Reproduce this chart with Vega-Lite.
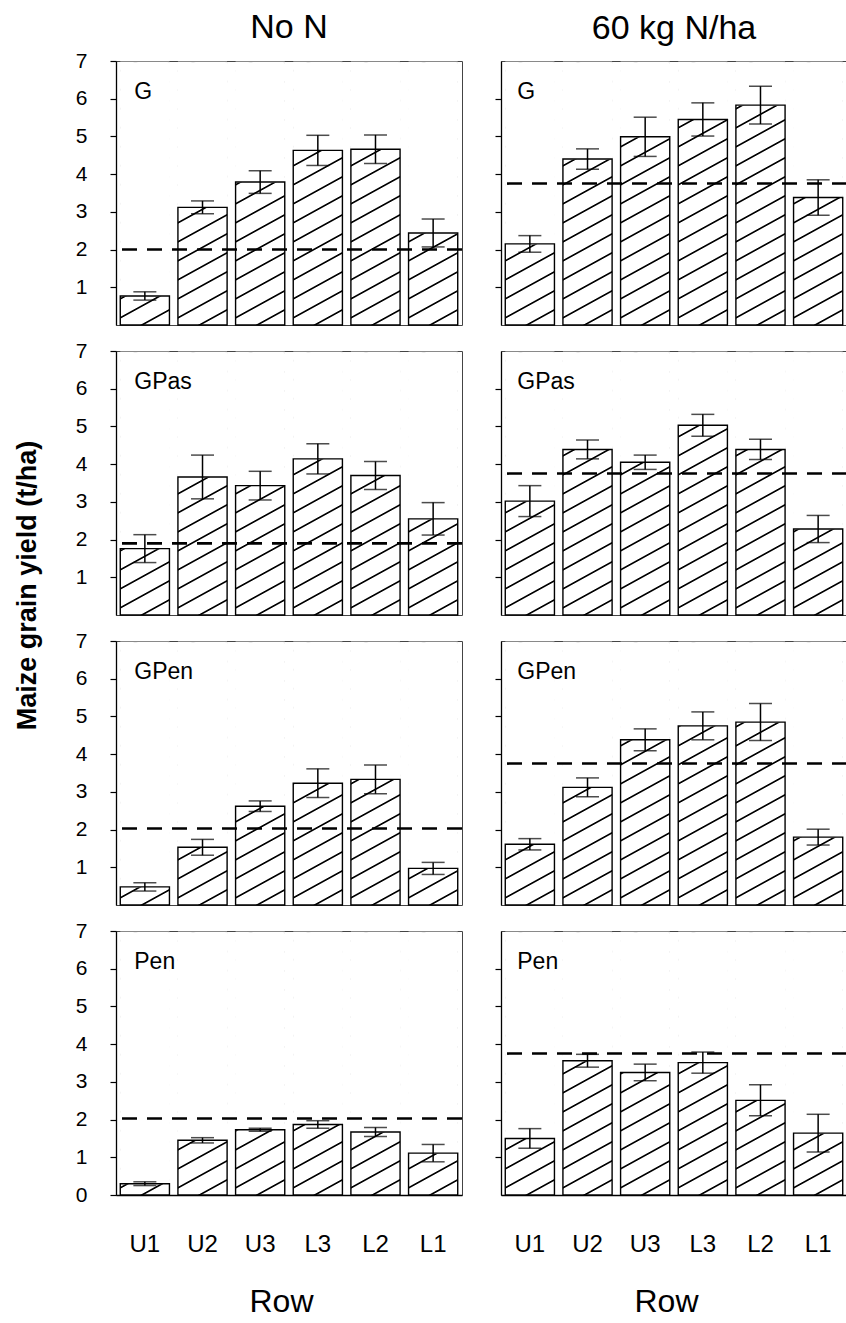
{
 "$schema": "https://vega.github.io/schema/vega-lite/v6.json",
 "background": "white",
 "padding": {"left": 12, "top": 10, "right": 0, "bottom": 0},
 "data": {"values": [
  {"n":"No N","system":"G","row":"U1","yield":0.77,"se":0.11,"control":2.0},
  {"n":"No N","system":"G","row":"U2","yield":3.12,"se":0.17,"control":2.0},
  {"n":"No N","system":"G","row":"U3","yield":3.79,"se":0.30,"control":2.0},
  {"n":"No N","system":"G","row":"L3","yield":4.63,"se":0.40,"control":2.0},
  {"n":"No N","system":"G","row":"L2","yield":4.66,"se":0.38,"control":2.0},
  {"n":"No N","system":"G","row":"L1","yield":2.44,"se":0.37,"control":2.0},
  {"n":"60 kg N/ha","system":"G","row":"U1","yield":2.15,"se":0.22,"control":3.75},
  {"n":"60 kg N/ha","system":"G","row":"U2","yield":4.40,"se":0.27,"control":3.75},
  {"n":"60 kg N/ha","system":"G","row":"U3","yield":4.99,"se":0.52,"control":3.75},
  {"n":"60 kg N/ha","system":"G","row":"L3","yield":5.45,"se":0.44,"control":3.75},
  {"n":"60 kg N/ha","system":"G","row":"L2","yield":5.83,"se":0.50,"control":3.75},
  {"n":"60 kg N/ha","system":"G","row":"L1","yield":3.38,"se":0.47,"control":3.75},
  {"n":"No N","system":"GPas","row":"U1","yield":1.76,"se":0.37,"control":1.9},
  {"n":"No N","system":"GPas","row":"U2","yield":3.66,"se":0.58,"control":1.9},
  {"n":"No N","system":"GPas","row":"U3","yield":3.43,"se":0.38,"control":1.9},
  {"n":"No N","system":"GPas","row":"L3","yield":4.14,"se":0.40,"control":1.9},
  {"n":"No N","system":"GPas","row":"L2","yield":3.70,"se":0.37,"control":1.9},
  {"n":"No N","system":"GPas","row":"L1","yield":2.55,"se":0.43,"control":1.9},
  {"n":"60 kg N/ha","system":"GPas","row":"U1","yield":3.02,"se":0.41,"control":3.75},
  {"n":"60 kg N/ha","system":"GPas","row":"U2","yield":4.39,"se":0.25,"control":3.75},
  {"n":"60 kg N/ha","system":"GPas","row":"U3","yield":4.05,"se":0.19,"control":3.75},
  {"n":"60 kg N/ha","system":"GPas","row":"L3","yield":5.03,"se":0.29,"control":3.75},
  {"n":"60 kg N/ha","system":"GPas","row":"L2","yield":4.39,"se":0.27,"control":3.75},
  {"n":"60 kg N/ha","system":"GPas","row":"L1","yield":2.28,"se":0.36,"control":3.75},
  {"n":"No N","system":"GPen","row":"U1","yield":0.48,"se":0.11,"control":2.03},
  {"n":"No N","system":"GPen","row":"U2","yield":1.53,"se":0.21,"control":2.03},
  {"n":"No N","system":"GPen","row":"U3","yield":2.62,"se":0.14,"control":2.03},
  {"n":"No N","system":"GPen","row":"L3","yield":3.23,"se":0.38,"control":2.03},
  {"n":"No N","system":"GPen","row":"L2","yield":3.33,"se":0.38,"control":2.03},
  {"n":"No N","system":"GPen","row":"L1","yield":0.97,"se":0.16,"control":2.03},
  {"n":"60 kg N/ha","system":"GPen","row":"U1","yield":1.61,"se":0.15,"control":3.75},
  {"n":"60 kg N/ha","system":"GPen","row":"U2","yield":3.12,"se":0.25,"control":3.75},
  {"n":"60 kg N/ha","system":"GPen","row":"U3","yield":4.38,"se":0.29,"control":3.75},
  {"n":"60 kg N/ha","system":"GPen","row":"L3","yield":4.75,"se":0.37,"control":3.75},
  {"n":"60 kg N/ha","system":"GPen","row":"L2","yield":4.85,"se":0.49,"control":3.75},
  {"n":"60 kg N/ha","system":"GPen","row":"L1","yield":1.80,"se":0.21,"control":3.75},
  {"n":"No N","system":"Pen","row":"U1","yield":0.30,"se":0.05,"control":2.03},
  {"n":"No N","system":"Pen","row":"U2","yield":1.45,"se":0.07,"control":2.03},
  {"n":"No N","system":"Pen","row":"U3","yield":1.73,"se":0.04,"control":2.03},
  {"n":"No N","system":"Pen","row":"L3","yield":1.87,"se":0.10,"control":2.03},
  {"n":"No N","system":"Pen","row":"L2","yield":1.67,"se":0.12,"control":2.03},
  {"n":"No N","system":"Pen","row":"L1","yield":1.11,"se":0.23,"control":2.03},
  {"n":"60 kg N/ha","system":"Pen","row":"U1","yield":1.50,"se":0.26,"control":3.75},
  {"n":"60 kg N/ha","system":"Pen","row":"U2","yield":3.56,"se":0.17,"control":3.75},
  {"n":"60 kg N/ha","system":"Pen","row":"U3","yield":3.25,"se":0.22,"control":3.75},
  {"n":"60 kg N/ha","system":"Pen","row":"L3","yield":3.51,"se":0.28,"control":3.75},
  {"n":"60 kg N/ha","system":"Pen","row":"L2","yield":2.51,"se":0.41,"control":3.75},
  {"n":"60 kg N/ha","system":"Pen","row":"L1","yield":1.64,"se":0.50,"control":3.75}
 ]},
 "columns": 2,
 "spacing": {"row": 26, "column": 39},
 "bounds": "flush",
 "concat": [
  {
   "width": 346, "height": 264,
   "title": {"text": "No N", "fontSize": 34, "fontWeight": "normal", "anchor": "middle", "frame": "group", "baseline": "alphabetic", "offset": 21, "dy": 43, "color": "black"},
   "transform": [{"filter": "datum.n === 'No N' && datum.system === 'G'"}],
   "layer": [
    {"mark": {"type": "bar", "fill": {"gradient": "linear", "x1": 0, "y1": 0, "x2": 0.11234, "y2": 1.09137, "stops": [{"offset": 0, "color": "#fff"}, {"offset": 0.025, "color": "#fff"}, {"offset": 0.0285, "color": "#000"}, {"offset": 0.0315, "color": "#000"}, {"offset": 0.035, "color": "#fff"}, {"offset": 0.0905, "color": "#fff"}, {"offset": 0.094, "color": "#000"}, {"offset": 0.097, "color": "#000"}, {"offset": 0.1005, "color": "#fff"}, {"offset": 0.1561, "color": "#fff"}, {"offset": 0.1596, "color": "#000"}, {"offset": 0.1626, "color": "#000"}, {"offset": 0.1661, "color": "#fff"}, {"offset": 0.2216, "color": "#fff"}, {"offset": 0.2251, "color": "#000"}, {"offset": 0.2281, "color": "#000"}, {"offset": 0.2316, "color": "#fff"}, {"offset": 0.2872, "color": "#fff"}, {"offset": 0.2907, "color": "#000"}, {"offset": 0.2937, "color": "#000"}, {"offset": 0.2972, "color": "#fff"}, {"offset": 0.3527, "color": "#fff"}, {"offset": 0.3562, "color": "#000"}, {"offset": 0.3592, "color": "#000"}, {"offset": 0.3627, "color": "#fff"}, {"offset": 0.4182, "color": "#fff"}, {"offset": 0.4217, "color": "#000"}, {"offset": 0.4247, "color": "#000"}, {"offset": 0.4282, "color": "#fff"}, {"offset": 0.4838, "color": "#fff"}, {"offset": 0.4873, "color": "#000"}, {"offset": 0.4903, "color": "#000"}, {"offset": 0.4938, "color": "#fff"}, {"offset": 0.5493, "color": "#fff"}, {"offset": 0.5528, "color": "#000"}, {"offset": 0.5558, "color": "#000"}, {"offset": 0.5593, "color": "#fff"}, {"offset": 0.6149, "color": "#fff"}, {"offset": 0.6184, "color": "#000"}, {"offset": 0.6214, "color": "#000"}, {"offset": 0.6249, "color": "#fff"}, {"offset": 0.6804, "color": "#fff"}, {"offset": 0.6839, "color": "#000"}, {"offset": 0.6869, "color": "#000"}, {"offset": 0.6904, "color": "#fff"}, {"offset": 0.7459, "color": "#fff"}, {"offset": 0.7494, "color": "#000"}, {"offset": 0.7524, "color": "#000"}, {"offset": 0.7559, "color": "#fff"}, {"offset": 0.8115, "color": "#fff"}, {"offset": 0.815, "color": "#000"}, {"offset": 0.818, "color": "#000"}, {"offset": 0.8215, "color": "#fff"}, {"offset": 0.877, "color": "#fff"}, {"offset": 0.8805, "color": "#000"}, {"offset": 0.8835, "color": "#000"}, {"offset": 0.887, "color": "#fff"}, {"offset": 0.9426, "color": "#fff"}, {"offset": 0.9461, "color": "#000"}, {"offset": 0.9491, "color": "#000"}, {"offset": 0.9526, "color": "#fff"}, {"offset": 1, "color": "#fff"}]}}, "encoding": {"x": {"field": "row", "type": "nominal", "sort": ["U1","U2","U3","L3","L2","L1"], "scale": {"paddingInner": 0.147, "paddingOuter": 0.074}, "axis": null}, "y": {"datum": 6.97, "type": "quantitative", "scale": {"domain": [0, 7], "nice": false}, "axis": {"values": [1,2,3,4,5,6,7], "title": null, "domain": true, "domainColor": "black", "domainWidth": 1.3, "tickSize": 6, "tickWidth": 1.2, "tickColor": "black", "labelFontSize": 21, "labelPadding": 23, "labelColor": "black", "grid": false, "labelBound": false, "labelFlush": false, "labelOverlap": false}}, "y2": {"datum": 0}}},
    {"mark": {"type": "bar", "fill": "white", "stroke": "white", "strokeWidth": 1}, "encoding": {"x": {"field": "row", "type": "nominal", "sort": ["U1","U2","U3","L3","L2","L1"]}, "y": {"field": "yield", "type": "quantitative"}, "y2": {"datum": 6.97}}},
    {"mark": {"type": "bar", "fill": "transparent", "stroke": "black", "strokeWidth": 1.4}, "encoding": {"x": {"field": "row", "type": "nominal", "sort": ["U1","U2","U3","L3","L2","L1"]}, "y": {"field": "yield", "type": "quantitative"}}},
    {"mark": {"type": "rule", "strokeDash": [15, 10], "strokeWidth": 2.6, "color": "black"}, "encoding": {"y": {"field": "control", "aggregate": "mean", "type": "quantitative"}}},
    {"mark": {"type": "errorbar", "ticks": true, "color": "black", "thickness": 1.5, "size": 23}, "encoding": {"x": {"field": "row", "type": "nominal", "sort": ["U1","U2","U3","L3","L2","L1"]}, "y": {"field": "yield", "type": "quantitative"}, "yError": {"field": "se"}}},
    {"transform": [{"filter": "datum.row === 'U1'"}], "mark": {"type": "text", "align": "left", "baseline": "alphabetic", "dx": 14, "fontSize": 23, "color": "black"}, "encoding": {"x": {"field": "row", "type": "nominal", "sort": ["U1","U2","U3","L3","L2","L1"], "bandPosition": 0}, "y": {"datum": 6.0, "type": "quantitative"}, "text": {"field": "system"}}}
   ]
  },
  {
   "width": 346, "height": 264,
   "title": {"text": "60 kg N/ha", "fontSize": 34, "fontWeight": "normal", "anchor": "middle", "frame": "group", "baseline": "alphabetic", "offset": 21, "dy": 33, "color": "black"},
   "transform": [{"filter": "datum.n === '60 kg N/ha' && datum.system === 'G'"}],
   "layer": [
    {"mark": {"type": "bar", "fill": {"gradient": "linear", "x1": 0, "y1": 0, "x2": 0.11234, "y2": 1.09137, "stops": [{"offset": 0, "color": "#fff"}, {"offset": 0.025, "color": "#fff"}, {"offset": 0.0285, "color": "#000"}, {"offset": 0.0315, "color": "#000"}, {"offset": 0.035, "color": "#fff"}, {"offset": 0.0905, "color": "#fff"}, {"offset": 0.094, "color": "#000"}, {"offset": 0.097, "color": "#000"}, {"offset": 0.1005, "color": "#fff"}, {"offset": 0.1561, "color": "#fff"}, {"offset": 0.1596, "color": "#000"}, {"offset": 0.1626, "color": "#000"}, {"offset": 0.1661, "color": "#fff"}, {"offset": 0.2216, "color": "#fff"}, {"offset": 0.2251, "color": "#000"}, {"offset": 0.2281, "color": "#000"}, {"offset": 0.2316, "color": "#fff"}, {"offset": 0.2872, "color": "#fff"}, {"offset": 0.2907, "color": "#000"}, {"offset": 0.2937, "color": "#000"}, {"offset": 0.2972, "color": "#fff"}, {"offset": 0.3527, "color": "#fff"}, {"offset": 0.3562, "color": "#000"}, {"offset": 0.3592, "color": "#000"}, {"offset": 0.3627, "color": "#fff"}, {"offset": 0.4182, "color": "#fff"}, {"offset": 0.4217, "color": "#000"}, {"offset": 0.4247, "color": "#000"}, {"offset": 0.4282, "color": "#fff"}, {"offset": 0.4838, "color": "#fff"}, {"offset": 0.4873, "color": "#000"}, {"offset": 0.4903, "color": "#000"}, {"offset": 0.4938, "color": "#fff"}, {"offset": 0.5493, "color": "#fff"}, {"offset": 0.5528, "color": "#000"}, {"offset": 0.5558, "color": "#000"}, {"offset": 0.5593, "color": "#fff"}, {"offset": 0.6149, "color": "#fff"}, {"offset": 0.6184, "color": "#000"}, {"offset": 0.6214, "color": "#000"}, {"offset": 0.6249, "color": "#fff"}, {"offset": 0.6804, "color": "#fff"}, {"offset": 0.6839, "color": "#000"}, {"offset": 0.6869, "color": "#000"}, {"offset": 0.6904, "color": "#fff"}, {"offset": 0.7459, "color": "#fff"}, {"offset": 0.7494, "color": "#000"}, {"offset": 0.7524, "color": "#000"}, {"offset": 0.7559, "color": "#fff"}, {"offset": 0.8115, "color": "#fff"}, {"offset": 0.815, "color": "#000"}, {"offset": 0.818, "color": "#000"}, {"offset": 0.8215, "color": "#fff"}, {"offset": 0.877, "color": "#fff"}, {"offset": 0.8805, "color": "#000"}, {"offset": 0.8835, "color": "#000"}, {"offset": 0.887, "color": "#fff"}, {"offset": 0.9426, "color": "#fff"}, {"offset": 0.9461, "color": "#000"}, {"offset": 0.9491, "color": "#000"}, {"offset": 0.9526, "color": "#fff"}, {"offset": 1, "color": "#fff"}]}}, "encoding": {"x": {"field": "row", "type": "nominal", "sort": ["U1","U2","U3","L3","L2","L1"], "scale": {"paddingInner": 0.147, "paddingOuter": 0.074}, "axis": null}, "y": {"datum": 6.97, "type": "quantitative", "scale": {"domain": [0, 7], "nice": false}, "axis": {"values": [1,2,3,4,5,6], "labels": false, "title": null, "domain": true, "domainColor": "black", "domainWidth": 1.3, "tickSize": 6, "tickWidth": 1.2, "tickColor": "black", "grid": false}}, "y2": {"datum": 0}}},
    {"mark": {"type": "bar", "fill": "white", "stroke": "white", "strokeWidth": 1}, "encoding": {"x": {"field": "row", "type": "nominal", "sort": ["U1","U2","U3","L3","L2","L1"]}, "y": {"field": "yield", "type": "quantitative"}, "y2": {"datum": 6.97}}},
    {"mark": {"type": "bar", "fill": "transparent", "stroke": "black", "strokeWidth": 1.4}, "encoding": {"x": {"field": "row", "type": "nominal", "sort": ["U1","U2","U3","L3","L2","L1"]}, "y": {"field": "yield", "type": "quantitative"}}},
    {"mark": {"type": "rule", "strokeDash": [15, 10], "strokeWidth": 2.6, "color": "black"}, "encoding": {"y": {"field": "control", "aggregate": "mean", "type": "quantitative"}}},
    {"mark": {"type": "errorbar", "ticks": true, "color": "black", "thickness": 1.5, "size": 23}, "encoding": {"x": {"field": "row", "type": "nominal", "sort": ["U1","U2","U3","L3","L2","L1"]}, "y": {"field": "yield", "type": "quantitative"}, "yError": {"field": "se"}}},
    {"transform": [{"filter": "datum.row === 'U1'"}], "mark": {"type": "text", "align": "left", "baseline": "alphabetic", "dx": 12, "fontSize": 23, "color": "black"}, "encoding": {"x": {"field": "row", "type": "nominal", "sort": ["U1","U2","U3","L3","L2","L1"], "bandPosition": 0}, "y": {"datum": 6.0, "type": "quantitative"}, "text": {"field": "system"}}}
   ]
  },
  {
   "width": 346, "height": 264,
   "transform": [{"filter": "datum.n === 'No N' && datum.system === 'GPas'"}],
   "layer": [
    {"mark": {"type": "bar", "fill": {"gradient": "linear", "x1": 0, "y1": 0, "x2": 0.11234, "y2": 1.09137, "stops": [{"offset": 0, "color": "#fff"}, {"offset": 0.025, "color": "#fff"}, {"offset": 0.0285, "color": "#000"}, {"offset": 0.0315, "color": "#000"}, {"offset": 0.035, "color": "#fff"}, {"offset": 0.0905, "color": "#fff"}, {"offset": 0.094, "color": "#000"}, {"offset": 0.097, "color": "#000"}, {"offset": 0.1005, "color": "#fff"}, {"offset": 0.1561, "color": "#fff"}, {"offset": 0.1596, "color": "#000"}, {"offset": 0.1626, "color": "#000"}, {"offset": 0.1661, "color": "#fff"}, {"offset": 0.2216, "color": "#fff"}, {"offset": 0.2251, "color": "#000"}, {"offset": 0.2281, "color": "#000"}, {"offset": 0.2316, "color": "#fff"}, {"offset": 0.2872, "color": "#fff"}, {"offset": 0.2907, "color": "#000"}, {"offset": 0.2937, "color": "#000"}, {"offset": 0.2972, "color": "#fff"}, {"offset": 0.3527, "color": "#fff"}, {"offset": 0.3562, "color": "#000"}, {"offset": 0.3592, "color": "#000"}, {"offset": 0.3627, "color": "#fff"}, {"offset": 0.4182, "color": "#fff"}, {"offset": 0.4217, "color": "#000"}, {"offset": 0.4247, "color": "#000"}, {"offset": 0.4282, "color": "#fff"}, {"offset": 0.4838, "color": "#fff"}, {"offset": 0.4873, "color": "#000"}, {"offset": 0.4903, "color": "#000"}, {"offset": 0.4938, "color": "#fff"}, {"offset": 0.5493, "color": "#fff"}, {"offset": 0.5528, "color": "#000"}, {"offset": 0.5558, "color": "#000"}, {"offset": 0.5593, "color": "#fff"}, {"offset": 0.6149, "color": "#fff"}, {"offset": 0.6184, "color": "#000"}, {"offset": 0.6214, "color": "#000"}, {"offset": 0.6249, "color": "#fff"}, {"offset": 0.6804, "color": "#fff"}, {"offset": 0.6839, "color": "#000"}, {"offset": 0.6869, "color": "#000"}, {"offset": 0.6904, "color": "#fff"}, {"offset": 0.7459, "color": "#fff"}, {"offset": 0.7494, "color": "#000"}, {"offset": 0.7524, "color": "#000"}, {"offset": 0.7559, "color": "#fff"}, {"offset": 0.8115, "color": "#fff"}, {"offset": 0.815, "color": "#000"}, {"offset": 0.818, "color": "#000"}, {"offset": 0.8215, "color": "#fff"}, {"offset": 0.877, "color": "#fff"}, {"offset": 0.8805, "color": "#000"}, {"offset": 0.8835, "color": "#000"}, {"offset": 0.887, "color": "#fff"}, {"offset": 0.9426, "color": "#fff"}, {"offset": 0.9461, "color": "#000"}, {"offset": 0.9491, "color": "#000"}, {"offset": 0.9526, "color": "#fff"}, {"offset": 1, "color": "#fff"}]}}, "encoding": {"x": {"field": "row", "type": "nominal", "sort": ["U1","U2","U3","L3","L2","L1"], "scale": {"paddingInner": 0.147, "paddingOuter": 0.074}, "axis": null}, "y": {"datum": 6.97, "type": "quantitative", "scale": {"domain": [0, 7], "nice": false}, "axis": {"values": [1,2,3,4,5,6,7], "title": "Maize grain yield (t/ha)", "titleFontSize": 27, "titleFontWeight": "bold", "titleColor": "black", "titleX": -89, "titleY": 234, "titleAngle": -90, "titleAlign": "center", "titleBaseline": "middle", "domain": true, "domainColor": "black", "domainWidth": 1.3, "tickSize": 6, "tickWidth": 1.2, "tickColor": "black", "labelFontSize": 21, "labelPadding": 23, "labelColor": "black", "grid": false, "labelBound": false, "labelFlush": false, "labelOverlap": false}}, "y2": {"datum": 0}}},
    {"mark": {"type": "bar", "fill": "white", "stroke": "white", "strokeWidth": 1}, "encoding": {"x": {"field": "row", "type": "nominal", "sort": ["U1","U2","U3","L3","L2","L1"]}, "y": {"field": "yield", "type": "quantitative", "title": "Maize grain yield (t/ha)"}, "y2": {"datum": 6.97}}},
    {"mark": {"type": "bar", "fill": "transparent", "stroke": "black", "strokeWidth": 1.4}, "encoding": {"x": {"field": "row", "type": "nominal", "sort": ["U1","U2","U3","L3","L2","L1"]}, "y": {"field": "yield", "type": "quantitative", "title": "Maize grain yield (t/ha)"}}},
    {"mark": {"type": "rule", "strokeDash": [15, 10], "strokeWidth": 2.6, "color": "black"}, "encoding": {"y": {"field": "control", "aggregate": "mean", "type": "quantitative", "title": "Maize grain yield (t/ha)"}}},
    {"mark": {"type": "errorbar", "ticks": true, "color": "black", "thickness": 1.5, "size": 23}, "encoding": {"x": {"field": "row", "type": "nominal", "sort": ["U1","U2","U3","L3","L2","L1"]}, "y": {"field": "yield", "type": "quantitative", "title": "Maize grain yield (t/ha)"}, "yError": {"field": "se"}}},
    {"transform": [{"filter": "datum.row === 'U1'"}], "mark": {"type": "text", "align": "left", "baseline": "alphabetic", "dx": 14, "fontSize": 23, "color": "black"}, "encoding": {"x": {"field": "row", "type": "nominal", "sort": ["U1","U2","U3","L3","L2","L1"], "bandPosition": 0}, "y": {"datum": 6.0, "type": "quantitative"}, "text": {"field": "system"}}}
   ]
  },
  {
   "width": 346, "height": 264,
   "transform": [{"filter": "datum.n === '60 kg N/ha' && datum.system === 'GPas'"}],
   "layer": [
    {"mark": {"type": "bar", "fill": {"gradient": "linear", "x1": 0, "y1": 0, "x2": 0.11234, "y2": 1.09137, "stops": [{"offset": 0, "color": "#fff"}, {"offset": 0.025, "color": "#fff"}, {"offset": 0.0285, "color": "#000"}, {"offset": 0.0315, "color": "#000"}, {"offset": 0.035, "color": "#fff"}, {"offset": 0.0905, "color": "#fff"}, {"offset": 0.094, "color": "#000"}, {"offset": 0.097, "color": "#000"}, {"offset": 0.1005, "color": "#fff"}, {"offset": 0.1561, "color": "#fff"}, {"offset": 0.1596, "color": "#000"}, {"offset": 0.1626, "color": "#000"}, {"offset": 0.1661, "color": "#fff"}, {"offset": 0.2216, "color": "#fff"}, {"offset": 0.2251, "color": "#000"}, {"offset": 0.2281, "color": "#000"}, {"offset": 0.2316, "color": "#fff"}, {"offset": 0.2872, "color": "#fff"}, {"offset": 0.2907, "color": "#000"}, {"offset": 0.2937, "color": "#000"}, {"offset": 0.2972, "color": "#fff"}, {"offset": 0.3527, "color": "#fff"}, {"offset": 0.3562, "color": "#000"}, {"offset": 0.3592, "color": "#000"}, {"offset": 0.3627, "color": "#fff"}, {"offset": 0.4182, "color": "#fff"}, {"offset": 0.4217, "color": "#000"}, {"offset": 0.4247, "color": "#000"}, {"offset": 0.4282, "color": "#fff"}, {"offset": 0.4838, "color": "#fff"}, {"offset": 0.4873, "color": "#000"}, {"offset": 0.4903, "color": "#000"}, {"offset": 0.4938, "color": "#fff"}, {"offset": 0.5493, "color": "#fff"}, {"offset": 0.5528, "color": "#000"}, {"offset": 0.5558, "color": "#000"}, {"offset": 0.5593, "color": "#fff"}, {"offset": 0.6149, "color": "#fff"}, {"offset": 0.6184, "color": "#000"}, {"offset": 0.6214, "color": "#000"}, {"offset": 0.6249, "color": "#fff"}, {"offset": 0.6804, "color": "#fff"}, {"offset": 0.6839, "color": "#000"}, {"offset": 0.6869, "color": "#000"}, {"offset": 0.6904, "color": "#fff"}, {"offset": 0.7459, "color": "#fff"}, {"offset": 0.7494, "color": "#000"}, {"offset": 0.7524, "color": "#000"}, {"offset": 0.7559, "color": "#fff"}, {"offset": 0.8115, "color": "#fff"}, {"offset": 0.815, "color": "#000"}, {"offset": 0.818, "color": "#000"}, {"offset": 0.8215, "color": "#fff"}, {"offset": 0.877, "color": "#fff"}, {"offset": 0.8805, "color": "#000"}, {"offset": 0.8835, "color": "#000"}, {"offset": 0.887, "color": "#fff"}, {"offset": 0.9426, "color": "#fff"}, {"offset": 0.9461, "color": "#000"}, {"offset": 0.9491, "color": "#000"}, {"offset": 0.9526, "color": "#fff"}, {"offset": 1, "color": "#fff"}]}}, "encoding": {"x": {"field": "row", "type": "nominal", "sort": ["U1","U2","U3","L3","L2","L1"], "scale": {"paddingInner": 0.147, "paddingOuter": 0.074}, "axis": null}, "y": {"datum": 6.97, "type": "quantitative", "scale": {"domain": [0, 7], "nice": false}, "axis": {"values": [1,2,3,4,5,6], "labels": false, "title": null, "domain": true, "domainColor": "black", "domainWidth": 1.3, "tickSize": 6, "tickWidth": 1.2, "tickColor": "black", "grid": false}}, "y2": {"datum": 0}}},
    {"mark": {"type": "bar", "fill": "white", "stroke": "white", "strokeWidth": 1}, "encoding": {"x": {"field": "row", "type": "nominal", "sort": ["U1","U2","U3","L3","L2","L1"]}, "y": {"field": "yield", "type": "quantitative"}, "y2": {"datum": 6.97}}},
    {"mark": {"type": "bar", "fill": "transparent", "stroke": "black", "strokeWidth": 1.4}, "encoding": {"x": {"field": "row", "type": "nominal", "sort": ["U1","U2","U3","L3","L2","L1"]}, "y": {"field": "yield", "type": "quantitative"}}},
    {"mark": {"type": "rule", "strokeDash": [15, 10], "strokeWidth": 2.6, "color": "black"}, "encoding": {"y": {"field": "control", "aggregate": "mean", "type": "quantitative"}}},
    {"mark": {"type": "errorbar", "ticks": true, "color": "black", "thickness": 1.5, "size": 23}, "encoding": {"x": {"field": "row", "type": "nominal", "sort": ["U1","U2","U3","L3","L2","L1"]}, "y": {"field": "yield", "type": "quantitative"}, "yError": {"field": "se"}}},
    {"transform": [{"filter": "datum.row === 'U1'"}], "mark": {"type": "text", "align": "left", "baseline": "alphabetic", "dx": 12, "fontSize": 23, "color": "black"}, "encoding": {"x": {"field": "row", "type": "nominal", "sort": ["U1","U2","U3","L3","L2","L1"], "bandPosition": 0}, "y": {"datum": 6.0, "type": "quantitative"}, "text": {"field": "system"}}}
   ]
  },
  {
   "width": 346, "height": 264,
   "transform": [{"filter": "datum.n === 'No N' && datum.system === 'GPen'"}],
   "layer": [
    {"mark": {"type": "bar", "fill": {"gradient": "linear", "x1": 0, "y1": 0, "x2": 0.11234, "y2": 1.09137, "stops": [{"offset": 0, "color": "#fff"}, {"offset": 0.025, "color": "#fff"}, {"offset": 0.0285, "color": "#000"}, {"offset": 0.0315, "color": "#000"}, {"offset": 0.035, "color": "#fff"}, {"offset": 0.0905, "color": "#fff"}, {"offset": 0.094, "color": "#000"}, {"offset": 0.097, "color": "#000"}, {"offset": 0.1005, "color": "#fff"}, {"offset": 0.1561, "color": "#fff"}, {"offset": 0.1596, "color": "#000"}, {"offset": 0.1626, "color": "#000"}, {"offset": 0.1661, "color": "#fff"}, {"offset": 0.2216, "color": "#fff"}, {"offset": 0.2251, "color": "#000"}, {"offset": 0.2281, "color": "#000"}, {"offset": 0.2316, "color": "#fff"}, {"offset": 0.2872, "color": "#fff"}, {"offset": 0.2907, "color": "#000"}, {"offset": 0.2937, "color": "#000"}, {"offset": 0.2972, "color": "#fff"}, {"offset": 0.3527, "color": "#fff"}, {"offset": 0.3562, "color": "#000"}, {"offset": 0.3592, "color": "#000"}, {"offset": 0.3627, "color": "#fff"}, {"offset": 0.4182, "color": "#fff"}, {"offset": 0.4217, "color": "#000"}, {"offset": 0.4247, "color": "#000"}, {"offset": 0.4282, "color": "#fff"}, {"offset": 0.4838, "color": "#fff"}, {"offset": 0.4873, "color": "#000"}, {"offset": 0.4903, "color": "#000"}, {"offset": 0.4938, "color": "#fff"}, {"offset": 0.5493, "color": "#fff"}, {"offset": 0.5528, "color": "#000"}, {"offset": 0.5558, "color": "#000"}, {"offset": 0.5593, "color": "#fff"}, {"offset": 0.6149, "color": "#fff"}, {"offset": 0.6184, "color": "#000"}, {"offset": 0.6214, "color": "#000"}, {"offset": 0.6249, "color": "#fff"}, {"offset": 0.6804, "color": "#fff"}, {"offset": 0.6839, "color": "#000"}, {"offset": 0.6869, "color": "#000"}, {"offset": 0.6904, "color": "#fff"}, {"offset": 0.7459, "color": "#fff"}, {"offset": 0.7494, "color": "#000"}, {"offset": 0.7524, "color": "#000"}, {"offset": 0.7559, "color": "#fff"}, {"offset": 0.8115, "color": "#fff"}, {"offset": 0.815, "color": "#000"}, {"offset": 0.818, "color": "#000"}, {"offset": 0.8215, "color": "#fff"}, {"offset": 0.877, "color": "#fff"}, {"offset": 0.8805, "color": "#000"}, {"offset": 0.8835, "color": "#000"}, {"offset": 0.887, "color": "#fff"}, {"offset": 0.9426, "color": "#fff"}, {"offset": 0.9461, "color": "#000"}, {"offset": 0.9491, "color": "#000"}, {"offset": 0.9526, "color": "#fff"}, {"offset": 1, "color": "#fff"}]}}, "encoding": {"x": {"field": "row", "type": "nominal", "sort": ["U1","U2","U3","L3","L2","L1"], "scale": {"paddingInner": 0.147, "paddingOuter": 0.074}, "axis": null}, "y": {"datum": 6.97, "type": "quantitative", "scale": {"domain": [0, 7], "nice": false}, "axis": {"values": [1,2,3,4,5,6,7], "title": null, "domain": true, "domainColor": "black", "domainWidth": 1.3, "tickSize": 6, "tickWidth": 1.2, "tickColor": "black", "labelFontSize": 21, "labelPadding": 23, "labelColor": "black", "grid": false, "labelBound": false, "labelFlush": false, "labelOverlap": false}}, "y2": {"datum": 0}}},
    {"mark": {"type": "bar", "fill": "white", "stroke": "white", "strokeWidth": 1}, "encoding": {"x": {"field": "row", "type": "nominal", "sort": ["U1","U2","U3","L3","L2","L1"]}, "y": {"field": "yield", "type": "quantitative"}, "y2": {"datum": 6.97}}},
    {"mark": {"type": "bar", "fill": "transparent", "stroke": "black", "strokeWidth": 1.4}, "encoding": {"x": {"field": "row", "type": "nominal", "sort": ["U1","U2","U3","L3","L2","L1"]}, "y": {"field": "yield", "type": "quantitative"}}},
    {"mark": {"type": "rule", "strokeDash": [15, 10], "strokeWidth": 2.6, "color": "black"}, "encoding": {"y": {"field": "control", "aggregate": "mean", "type": "quantitative"}}},
    {"mark": {"type": "errorbar", "ticks": true, "color": "black", "thickness": 1.5, "size": 23}, "encoding": {"x": {"field": "row", "type": "nominal", "sort": ["U1","U2","U3","L3","L2","L1"]}, "y": {"field": "yield", "type": "quantitative"}, "yError": {"field": "se"}}},
    {"transform": [{"filter": "datum.row === 'U1'"}], "mark": {"type": "text", "align": "left", "baseline": "alphabetic", "dx": 14, "fontSize": 23, "color": "black"}, "encoding": {"x": {"field": "row", "type": "nominal", "sort": ["U1","U2","U3","L3","L2","L1"], "bandPosition": 0}, "y": {"datum": 6.0, "type": "quantitative"}, "text": {"field": "system"}}}
   ]
  },
  {
   "width": 346, "height": 264,
   "transform": [{"filter": "datum.n === '60 kg N/ha' && datum.system === 'GPen'"}],
   "layer": [
    {"mark": {"type": "bar", "fill": {"gradient": "linear", "x1": 0, "y1": 0, "x2": 0.11234, "y2": 1.09137, "stops": [{"offset": 0, "color": "#fff"}, {"offset": 0.025, "color": "#fff"}, {"offset": 0.0285, "color": "#000"}, {"offset": 0.0315, "color": "#000"}, {"offset": 0.035, "color": "#fff"}, {"offset": 0.0905, "color": "#fff"}, {"offset": 0.094, "color": "#000"}, {"offset": 0.097, "color": "#000"}, {"offset": 0.1005, "color": "#fff"}, {"offset": 0.1561, "color": "#fff"}, {"offset": 0.1596, "color": "#000"}, {"offset": 0.1626, "color": "#000"}, {"offset": 0.1661, "color": "#fff"}, {"offset": 0.2216, "color": "#fff"}, {"offset": 0.2251, "color": "#000"}, {"offset": 0.2281, "color": "#000"}, {"offset": 0.2316, "color": "#fff"}, {"offset": 0.2872, "color": "#fff"}, {"offset": 0.2907, "color": "#000"}, {"offset": 0.2937, "color": "#000"}, {"offset": 0.2972, "color": "#fff"}, {"offset": 0.3527, "color": "#fff"}, {"offset": 0.3562, "color": "#000"}, {"offset": 0.3592, "color": "#000"}, {"offset": 0.3627, "color": "#fff"}, {"offset": 0.4182, "color": "#fff"}, {"offset": 0.4217, "color": "#000"}, {"offset": 0.4247, "color": "#000"}, {"offset": 0.4282, "color": "#fff"}, {"offset": 0.4838, "color": "#fff"}, {"offset": 0.4873, "color": "#000"}, {"offset": 0.4903, "color": "#000"}, {"offset": 0.4938, "color": "#fff"}, {"offset": 0.5493, "color": "#fff"}, {"offset": 0.5528, "color": "#000"}, {"offset": 0.5558, "color": "#000"}, {"offset": 0.5593, "color": "#fff"}, {"offset": 0.6149, "color": "#fff"}, {"offset": 0.6184, "color": "#000"}, {"offset": 0.6214, "color": "#000"}, {"offset": 0.6249, "color": "#fff"}, {"offset": 0.6804, "color": "#fff"}, {"offset": 0.6839, "color": "#000"}, {"offset": 0.6869, "color": "#000"}, {"offset": 0.6904, "color": "#fff"}, {"offset": 0.7459, "color": "#fff"}, {"offset": 0.7494, "color": "#000"}, {"offset": 0.7524, "color": "#000"}, {"offset": 0.7559, "color": "#fff"}, {"offset": 0.8115, "color": "#fff"}, {"offset": 0.815, "color": "#000"}, {"offset": 0.818, "color": "#000"}, {"offset": 0.8215, "color": "#fff"}, {"offset": 0.877, "color": "#fff"}, {"offset": 0.8805, "color": "#000"}, {"offset": 0.8835, "color": "#000"}, {"offset": 0.887, "color": "#fff"}, {"offset": 0.9426, "color": "#fff"}, {"offset": 0.9461, "color": "#000"}, {"offset": 0.9491, "color": "#000"}, {"offset": 0.9526, "color": "#fff"}, {"offset": 1, "color": "#fff"}]}}, "encoding": {"x": {"field": "row", "type": "nominal", "sort": ["U1","U2","U3","L3","L2","L1"], "scale": {"paddingInner": 0.147, "paddingOuter": 0.074}, "axis": null}, "y": {"datum": 6.97, "type": "quantitative", "scale": {"domain": [0, 7], "nice": false}, "axis": {"values": [1,2,3,4,5,6], "labels": false, "title": null, "domain": true, "domainColor": "black", "domainWidth": 1.3, "tickSize": 6, "tickWidth": 1.2, "tickColor": "black", "grid": false}}, "y2": {"datum": 0}}},
    {"mark": {"type": "bar", "fill": "white", "stroke": "white", "strokeWidth": 1}, "encoding": {"x": {"field": "row", "type": "nominal", "sort": ["U1","U2","U3","L3","L2","L1"]}, "y": {"field": "yield", "type": "quantitative"}, "y2": {"datum": 6.97}}},
    {"mark": {"type": "bar", "fill": "transparent", "stroke": "black", "strokeWidth": 1.4}, "encoding": {"x": {"field": "row", "type": "nominal", "sort": ["U1","U2","U3","L3","L2","L1"]}, "y": {"field": "yield", "type": "quantitative"}}},
    {"mark": {"type": "rule", "strokeDash": [15, 10], "strokeWidth": 2.6, "color": "black"}, "encoding": {"y": {"field": "control", "aggregate": "mean", "type": "quantitative"}}},
    {"mark": {"type": "errorbar", "ticks": true, "color": "black", "thickness": 1.5, "size": 23}, "encoding": {"x": {"field": "row", "type": "nominal", "sort": ["U1","U2","U3","L3","L2","L1"]}, "y": {"field": "yield", "type": "quantitative"}, "yError": {"field": "se"}}},
    {"transform": [{"filter": "datum.row === 'U1'"}], "mark": {"type": "text", "align": "left", "baseline": "alphabetic", "dx": 12, "fontSize": 23, "color": "black"}, "encoding": {"x": {"field": "row", "type": "nominal", "sort": ["U1","U2","U3","L3","L2","L1"], "bandPosition": 0}, "y": {"datum": 6.0, "type": "quantitative"}, "text": {"field": "system"}}}
   ]
  },
  {
   "width": 346, "height": 264,
   "transform": [{"filter": "datum.n === 'No N' && datum.system === 'Pen'"}],
   "layer": [
    {"mark": {"type": "bar", "fill": {"gradient": "linear", "x1": 0, "y1": 0, "x2": 0.11234, "y2": 1.09137, "stops": [{"offset": 0, "color": "#fff"}, {"offset": 0.025, "color": "#fff"}, {"offset": 0.0285, "color": "#000"}, {"offset": 0.0315, "color": "#000"}, {"offset": 0.035, "color": "#fff"}, {"offset": 0.0905, "color": "#fff"}, {"offset": 0.094, "color": "#000"}, {"offset": 0.097, "color": "#000"}, {"offset": 0.1005, "color": "#fff"}, {"offset": 0.1561, "color": "#fff"}, {"offset": 0.1596, "color": "#000"}, {"offset": 0.1626, "color": "#000"}, {"offset": 0.1661, "color": "#fff"}, {"offset": 0.2216, "color": "#fff"}, {"offset": 0.2251, "color": "#000"}, {"offset": 0.2281, "color": "#000"}, {"offset": 0.2316, "color": "#fff"}, {"offset": 0.2872, "color": "#fff"}, {"offset": 0.2907, "color": "#000"}, {"offset": 0.2937, "color": "#000"}, {"offset": 0.2972, "color": "#fff"}, {"offset": 0.3527, "color": "#fff"}, {"offset": 0.3562, "color": "#000"}, {"offset": 0.3592, "color": "#000"}, {"offset": 0.3627, "color": "#fff"}, {"offset": 0.4182, "color": "#fff"}, {"offset": 0.4217, "color": "#000"}, {"offset": 0.4247, "color": "#000"}, {"offset": 0.4282, "color": "#fff"}, {"offset": 0.4838, "color": "#fff"}, {"offset": 0.4873, "color": "#000"}, {"offset": 0.4903, "color": "#000"}, {"offset": 0.4938, "color": "#fff"}, {"offset": 0.5493, "color": "#fff"}, {"offset": 0.5528, "color": "#000"}, {"offset": 0.5558, "color": "#000"}, {"offset": 0.5593, "color": "#fff"}, {"offset": 0.6149, "color": "#fff"}, {"offset": 0.6184, "color": "#000"}, {"offset": 0.6214, "color": "#000"}, {"offset": 0.6249, "color": "#fff"}, {"offset": 0.6804, "color": "#fff"}, {"offset": 0.6839, "color": "#000"}, {"offset": 0.6869, "color": "#000"}, {"offset": 0.6904, "color": "#fff"}, {"offset": 0.7459, "color": "#fff"}, {"offset": 0.7494, "color": "#000"}, {"offset": 0.7524, "color": "#000"}, {"offset": 0.7559, "color": "#fff"}, {"offset": 0.8115, "color": "#fff"}, {"offset": 0.815, "color": "#000"}, {"offset": 0.818, "color": "#000"}, {"offset": 0.8215, "color": "#fff"}, {"offset": 0.877, "color": "#fff"}, {"offset": 0.8805, "color": "#000"}, {"offset": 0.8835, "color": "#000"}, {"offset": 0.887, "color": "#fff"}, {"offset": 0.9426, "color": "#fff"}, {"offset": 0.9461, "color": "#000"}, {"offset": 0.9491, "color": "#000"}, {"offset": 0.9526, "color": "#fff"}, {"offset": 1, "color": "#fff"}]}}, "encoding": {"x": {"field": "row", "type": "nominal", "sort": ["U1","U2","U3","L3","L2","L1"], "scale": {"paddingInner": 0.147, "paddingOuter": 0.074}, "axis": {"title": "Row", "labelAngle": 0, "ticks": false, "tickSize": 0, "domain": true, "domainColor": "black", "domainWidth": 1.3, "labelFontSize": 24, "labelPadding": 56, "labelBaseline": "alphabetic", "labelColor": "black", "titleFontSize": 32, "titleFontWeight": "normal", "titleColor": "black", "titleX": 165, "titleY": 116, "titleBaseline": "alphabetic", "titleAlign": "center", "titleAngle": 0}}, "y": {"datum": 6.97, "type": "quantitative", "scale": {"domain": [0, 7], "nice": false}, "axis": {"tickCount": 7, "tickMinStep": 1, "title": null, "domain": true, "domainColor": "black", "domainWidth": 1.3, "tickSize": 6, "tickWidth": 1.2, "tickColor": "black", "labelFontSize": 21, "labelPadding": 23, "labelColor": "black", "grid": false, "labelBound": false, "labelFlush": false, "labelOverlap": false}}, "y2": {"datum": 0}}},
    {"mark": {"type": "bar", "fill": "white", "stroke": "white", "strokeWidth": 1}, "encoding": {"x": {"field": "row", "type": "nominal", "sort": ["U1","U2","U3","L3","L2","L1"]}, "y": {"field": "yield", "type": "quantitative"}, "y2": {"datum": 6.97}}},
    {"mark": {"type": "bar", "fill": "transparent", "stroke": "black", "strokeWidth": 1.4}, "encoding": {"x": {"field": "row", "type": "nominal", "sort": ["U1","U2","U3","L3","L2","L1"]}, "y": {"field": "yield", "type": "quantitative"}}},
    {"mark": {"type": "rule", "strokeDash": [15, 10], "strokeWidth": 2.6, "color": "black"}, "encoding": {"y": {"field": "control", "aggregate": "mean", "type": "quantitative"}}},
    {"mark": {"type": "errorbar", "ticks": true, "color": "black", "thickness": 1.5, "size": 23}, "encoding": {"x": {"field": "row", "type": "nominal", "sort": ["U1","U2","U3","L3","L2","L1"]}, "y": {"field": "yield", "type": "quantitative"}, "yError": {"field": "se"}}},
    {"transform": [{"filter": "datum.row === 'U1'"}], "mark": {"type": "text", "align": "left", "baseline": "alphabetic", "dx": 14, "fontSize": 23, "color": "black"}, "encoding": {"x": {"field": "row", "type": "nominal", "sort": ["U1","U2","U3","L3","L2","L1"], "bandPosition": 0}, "y": {"datum": 6.0, "type": "quantitative"}, "text": {"field": "system"}}}
   ]
  },
  {
   "width": 346, "height": 264,
   "transform": [{"filter": "datum.n === '60 kg N/ha' && datum.system === 'Pen'"}],
   "layer": [
    {"mark": {"type": "bar", "fill": {"gradient": "linear", "x1": 0, "y1": 0, "x2": 0.11234, "y2": 1.09137, "stops": [{"offset": 0, "color": "#fff"}, {"offset": 0.025, "color": "#fff"}, {"offset": 0.0285, "color": "#000"}, {"offset": 0.0315, "color": "#000"}, {"offset": 0.035, "color": "#fff"}, {"offset": 0.0905, "color": "#fff"}, {"offset": 0.094, "color": "#000"}, {"offset": 0.097, "color": "#000"}, {"offset": 0.1005, "color": "#fff"}, {"offset": 0.1561, "color": "#fff"}, {"offset": 0.1596, "color": "#000"}, {"offset": 0.1626, "color": "#000"}, {"offset": 0.1661, "color": "#fff"}, {"offset": 0.2216, "color": "#fff"}, {"offset": 0.2251, "color": "#000"}, {"offset": 0.2281, "color": "#000"}, {"offset": 0.2316, "color": "#fff"}, {"offset": 0.2872, "color": "#fff"}, {"offset": 0.2907, "color": "#000"}, {"offset": 0.2937, "color": "#000"}, {"offset": 0.2972, "color": "#fff"}, {"offset": 0.3527, "color": "#fff"}, {"offset": 0.3562, "color": "#000"}, {"offset": 0.3592, "color": "#000"}, {"offset": 0.3627, "color": "#fff"}, {"offset": 0.4182, "color": "#fff"}, {"offset": 0.4217, "color": "#000"}, {"offset": 0.4247, "color": "#000"}, {"offset": 0.4282, "color": "#fff"}, {"offset": 0.4838, "color": "#fff"}, {"offset": 0.4873, "color": "#000"}, {"offset": 0.4903, "color": "#000"}, {"offset": 0.4938, "color": "#fff"}, {"offset": 0.5493, "color": "#fff"}, {"offset": 0.5528, "color": "#000"}, {"offset": 0.5558, "color": "#000"}, {"offset": 0.5593, "color": "#fff"}, {"offset": 0.6149, "color": "#fff"}, {"offset": 0.6184, "color": "#000"}, {"offset": 0.6214, "color": "#000"}, {"offset": 0.6249, "color": "#fff"}, {"offset": 0.6804, "color": "#fff"}, {"offset": 0.6839, "color": "#000"}, {"offset": 0.6869, "color": "#000"}, {"offset": 0.6904, "color": "#fff"}, {"offset": 0.7459, "color": "#fff"}, {"offset": 0.7494, "color": "#000"}, {"offset": 0.7524, "color": "#000"}, {"offset": 0.7559, "color": "#fff"}, {"offset": 0.8115, "color": "#fff"}, {"offset": 0.815, "color": "#000"}, {"offset": 0.818, "color": "#000"}, {"offset": 0.8215, "color": "#fff"}, {"offset": 0.877, "color": "#fff"}, {"offset": 0.8805, "color": "#000"}, {"offset": 0.8835, "color": "#000"}, {"offset": 0.887, "color": "#fff"}, {"offset": 0.9426, "color": "#fff"}, {"offset": 0.9461, "color": "#000"}, {"offset": 0.9491, "color": "#000"}, {"offset": 0.9526, "color": "#fff"}, {"offset": 1, "color": "#fff"}]}}, "encoding": {"x": {"field": "row", "type": "nominal", "sort": ["U1","U2","U3","L3","L2","L1"], "scale": {"paddingInner": 0.147, "paddingOuter": 0.074}, "axis": {"title": "Row", "labelAngle": 0, "ticks": false, "tickSize": 0, "domain": true, "domainColor": "black", "domainWidth": 1.3, "labelFontSize": 24, "labelPadding": 56, "labelBaseline": "alphabetic", "labelColor": "black", "titleFontSize": 32, "titleFontWeight": "normal", "titleColor": "black", "titleX": 165, "titleY": 116, "titleBaseline": "alphabetic", "titleAlign": "center", "titleAngle": 0}}, "y": {"datum": 6.97, "type": "quantitative", "scale": {"domain": [0, 7], "nice": false}, "axis": {"values": [1,2,3,4,5,6], "labels": false, "title": null, "domain": true, "domainColor": "black", "domainWidth": 1.3, "tickSize": 6, "tickWidth": 1.2, "tickColor": "black", "grid": false}}, "y2": {"datum": 0}}},
    {"mark": {"type": "bar", "fill": "white", "stroke": "white", "strokeWidth": 1}, "encoding": {"x": {"field": "row", "type": "nominal", "sort": ["U1","U2","U3","L3","L2","L1"]}, "y": {"field": "yield", "type": "quantitative"}, "y2": {"datum": 6.97}}},
    {"mark": {"type": "bar", "fill": "transparent", "stroke": "black", "strokeWidth": 1.4}, "encoding": {"x": {"field": "row", "type": "nominal", "sort": ["U1","U2","U3","L3","L2","L1"]}, "y": {"field": "yield", "type": "quantitative"}}},
    {"mark": {"type": "rule", "strokeDash": [15, 10], "strokeWidth": 2.6, "color": "black"}, "encoding": {"y": {"field": "control", "aggregate": "mean", "type": "quantitative"}}},
    {"mark": {"type": "errorbar", "ticks": true, "color": "black", "thickness": 1.5, "size": 23}, "encoding": {"x": {"field": "row", "type": "nominal", "sort": ["U1","U2","U3","L3","L2","L1"]}, "y": {"field": "yield", "type": "quantitative"}, "yError": {"field": "se"}}},
    {"transform": [{"filter": "datum.row === 'U1'"}], "mark": {"type": "text", "align": "left", "baseline": "alphabetic", "dx": 12, "fontSize": 23, "color": "black"}, "encoding": {"x": {"field": "row", "type": "nominal", "sort": ["U1","U2","U3","L3","L2","L1"], "bandPosition": 0}, "y": {"datum": 6.0, "type": "quantitative"}, "text": {"field": "system"}}}
   ]
  }
 ],
 "config": {
  "font": "Liberation Sans",
  "view": {"stroke": "#444", "strokeWidth": 1},
  "axis": {"grid": false, "labelColor": "black", "titleColor": "black"}
 }
}
